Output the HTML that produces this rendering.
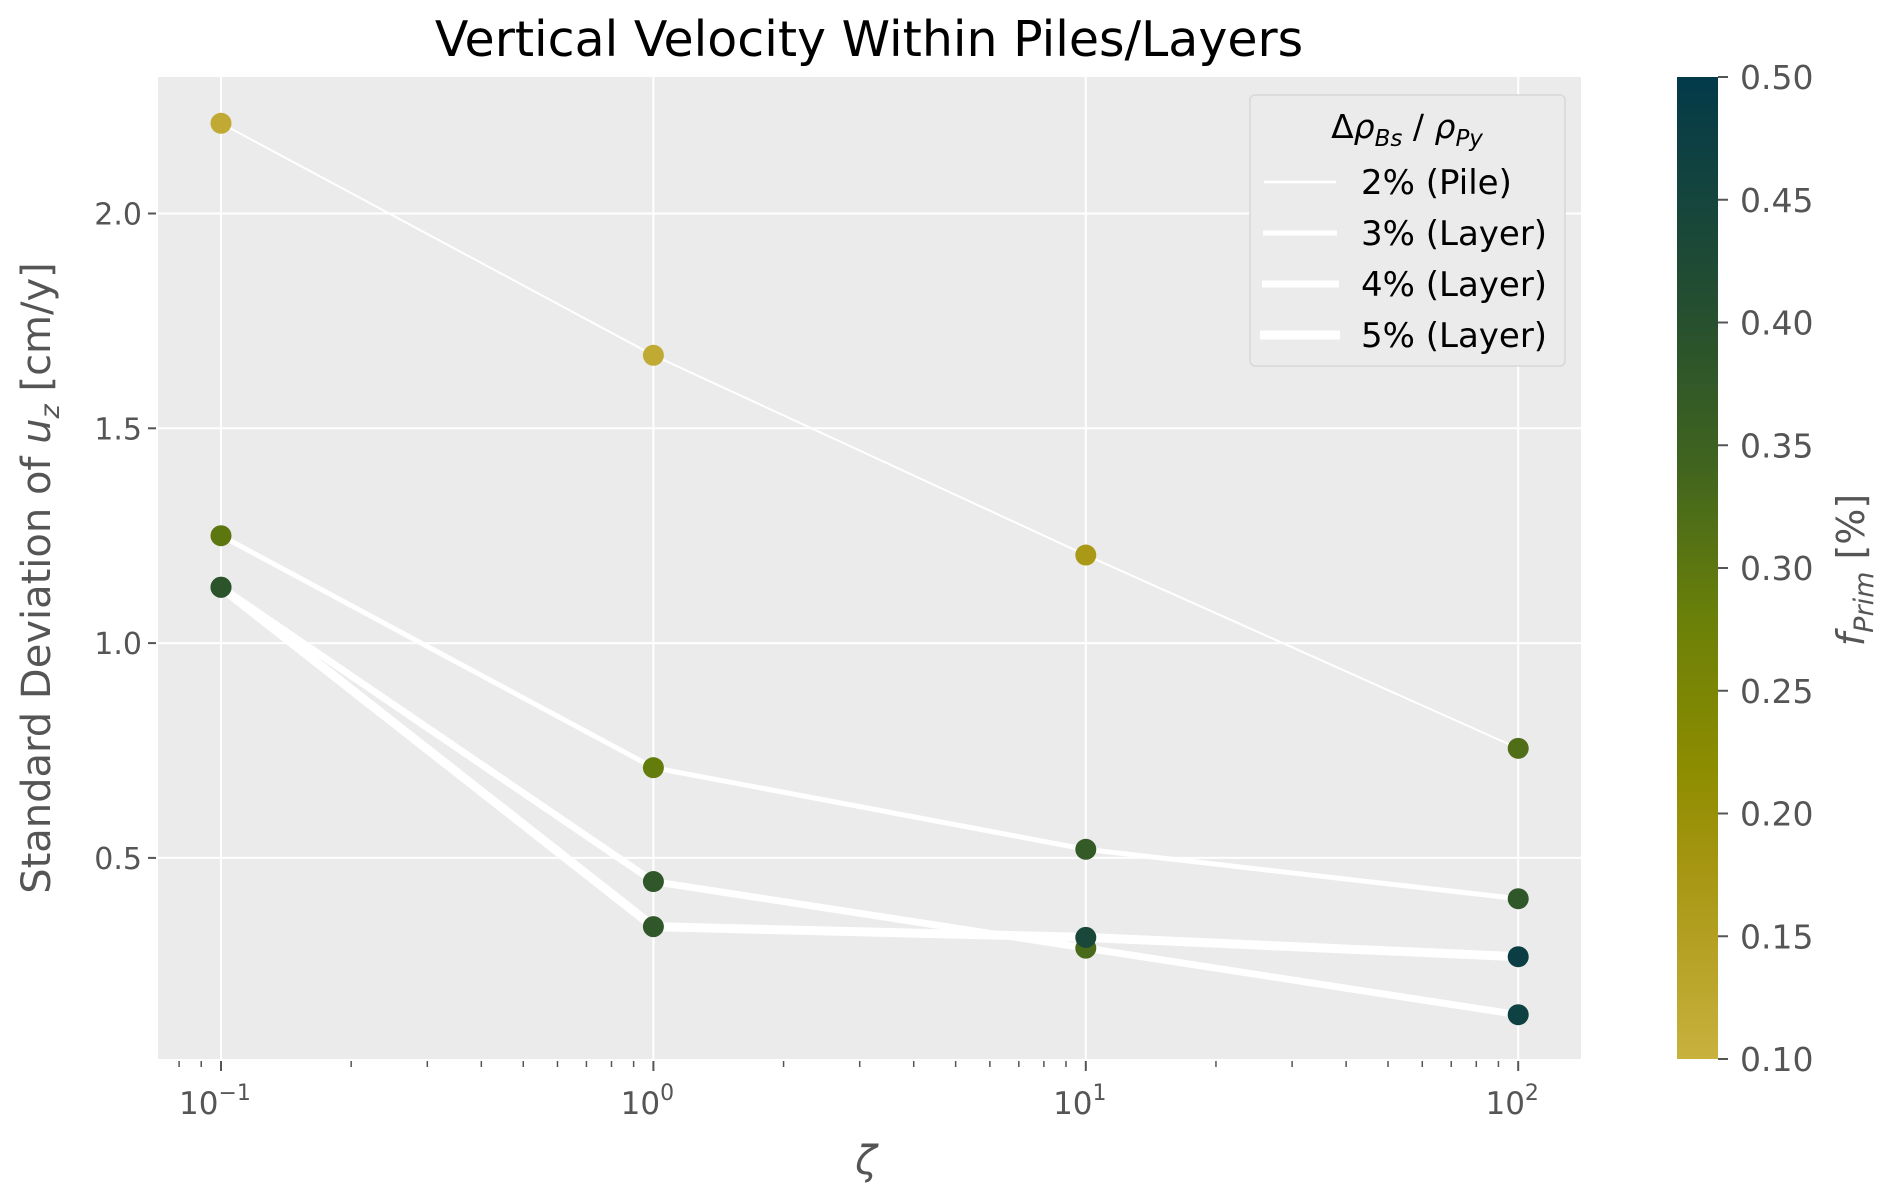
<!DOCTYPE html>
<html><head><meta charset="utf-8"><style>
body{margin:0;background:#fff;}
svg text{font-family:"DejaVu Sans","Liberation Sans",sans-serif;}
</style></head><body>
<svg id="chart" width="1892" height="1197" viewBox="0 0 1892 1197" xmlns="http://www.w3.org/2000/svg">
<rect x="158" y="77" width="1423" height="982" fill="#ebebeb"/>
<g id="grid"></g>
<g id="series"></g>
<g id="axes"></g>
<text x="869" y="56" font-size="49" text-anchor="middle" fill="#000">Vertical Velocity Within Piles/Layers</text>
<text transform="translate(50,578) rotate(-90)" font-size="40" text-anchor="middle" fill="#555">Standard Deviation of <tspan font-style="italic">u</tspan><tspan font-style="italic" font-size="27" dy="9">z</tspan><tspan dy="-9"> [cm/y]</tspan></text>
<text x="866" y="1174" font-size="40" font-style="italic" text-anchor="middle" fill="#555">ζ</text>
<g>
<rect x="1250" y="95" width="315" height="271" rx="5" fill="#ebebeb" stroke="#d8d8d8" stroke-width="1.5"/>
<text x="1407" y="138" font-size="33" text-anchor="middle" fill="#000">Δ<tspan font-style="italic">ρ</tspan><tspan font-style="italic" font-size="23" dy="8">Bs</tspan><tspan dy="-8"> / </tspan><tspan font-style="italic">ρ</tspan><tspan font-style="italic" font-size="23" dy="8">Py</tspan></text>
<g><line x1="1264" x2="1336" y1="182" y2="182" stroke="#fff" stroke-width="2.5"/><text x="1361" y="194" font-size="34" fill="#000">2% (Pile)</text></g>
<g><line x1="1263" x2="1337" y1="233" y2="233" stroke="#fff" stroke-width="5"/><text x="1361" y="245" font-size="34" fill="#000">3% (Layer)</text></g>
<g><line x1="1262" x2="1339" y1="284" y2="284" stroke="#fff" stroke-width="7"/><text x="1361" y="296" font-size="34" fill="#000">4% (Layer)</text></g>
<g><line x1="1260" x2="1340" y1="335" y2="335" stroke="#fff" stroke-width="9"/><text x="1361" y="347" font-size="34" fill="#000">5% (Layer)</text></g>
</g>
<defs><linearGradient id="cb" x1="0" y1="1" x2="0" y2="0">
<stop offset="0" stop-color="#c9b13e"/><stop offset="0.2" stop-color="#a59510"/><stop offset="0.3" stop-color="#8c8c00"/><stop offset="0.45" stop-color="#6a8009"/><stop offset="0.6" stop-color="#41651e"/><stop offset="0.75" stop-color="#27502e"/><stop offset="1" stop-color="#033a4a"/>
</linearGradient></defs>
<rect x="1677" y="77" width="41" height="982" fill="url(#cb)"/>
<g id="cbticks"></g>
<text transform="translate(1864,570) rotate(-90)" font-size="38" text-anchor="middle" fill="#555"><tspan font-style="italic">f</tspan><tspan font-style="italic" font-size="27" dy="9">Prim</tspan><tspan dy="-9"> [%]</tspan></text>
</svg>
<script>
const zeta = [0.1, 1, 10, 100];
const pile2 = [2.21, 1.67, 1.205, 0.755];
const pile2F = [0.12, 0.12, 0.17, 0.32];
const layer3 = [1.25, 0.71, 0.52, 0.405];
const layer3F = [0.30, 0.29, 0.37, 0.38];
const layer4 = [1.13, 0.445, 0.29, 0.135];
const layer4F = [0.39, 0.38, 0.33, 0.47];
const layer5 = [1.13, 0.34, 0.315, 0.27];
const layer5F = [0.39, 0.38, 0.44, 0.48];
const yTicks = [0.5, 1.0, 1.5, 2.0];
const cbTicks = [0.10, 0.15, 0.20, 0.25, 0.30, 0.35, 0.40, 0.45, 0.50];
const xDecades = [-1, 0, 1, 2];
const NS = "http://www.w3.org/2000/svg";
const X = v => 221 + (Math.log10(v) + 1) * 432.4;
const Y = v => 857.9 - (v - 0.5) * 429.6;
const CB = f => 1059 - (f - 0.1) / 0.4 * 982;
const stops = [[0.10,[201,177,62]],[0.18,[165,149,16]],[0.22,[140,140,0]],[0.28,[106,128,9]],[0.34,[65,101,30]],[0.40,[39,80,46]],[0.50,[3,58,74]]];
function col(f){for(let i=0;i<stops.length-1;i++){const a=stops[i],b=stops[i+1];if(f<=b[0]){const t=Math.max(0,(f-a[0])/(b[0]-a[0]));return "rgb("+a[1].map((c,k)=>Math.round(c+(b[1][k]-c)*t)).join(",")+")";}}return "rgb(3,58,74)";}
function mk(tag, attrs, parent){const e=document.createElementNS(NS,tag);for(const k in attrs)e.setAttribute(k,attrs[k]);parent.appendChild(e);return e;}
const grid=document.getElementById('grid'), ser=document.getElementById('series'), ax=document.getElementById('axes'), cbt=document.getElementById('cbticks');
xDecades.forEach(d=>{const x=X(Math.pow(10,d));
 const g=mk('line',{x1:x,x2:x,y1:77,y2:1059,stroke:'#fff','stroke-width':2},grid);
 
 
 const t=mk('line',{x1:x,x2:x,y1:1061,y2:1071,stroke:'#555','stroke-width':2},ax);
 
 
 const tx=mk('text',{x:x-6,y:1114,'font-size':31,'text-anchor':'middle',fill:'#555'},ax);
 
 
 tx.innerHTML='10<tspan font-size="22" dy="-14">'+(d<0?'−1':d)+'</tspan>';
});
for(let d=-2;d<=2;d++)for(let m=2;m<=9;m++){const v=m*Math.pow(10,d);const x=X(v);if(x<160||x>1580)continue;
 const t=mk('line',{x1:x,x2:x,y1:1061,y2:1067,stroke:'#555','stroke-width':1.5},ax);
 
 }
yTicks.forEach(v=>{const y=Y(v);
 const g=mk('line',{x1:158,x2:1581,y1:y,y2:y,stroke:'#fff','stroke-width':2},grid);
 
 
 const t=mk('line',{x1:148,x2:156,y1:y,y2:y,stroke:'#555','stroke-width':2},ax);
 
 
 const tx=mk('text',{x:142,y:y+11,'font-size':30,'text-anchor':'end',fill:'#555'},ax);
 
 
 tx.textContent=v.toFixed(1);
});
cbTicks.forEach(v=>{const y=CB(v);
 const t=mk('line',{x1:1718,x2:1728,y1:y,y2:y,stroke:'#555','stroke-width':2},cbt);
 
 
 const tx=mk('text',{x:1740,y:y+12,'font-size':33,fill:'#555'},cbt);
 
 
 tx.textContent=v.toFixed(2);
});
const series=[[pile2,pile2F,2,'series-2pct-pile'],[layer3,layer3F,5,'series-3pct-layer'],[layer4,layer4F,7,'series-4pct-layer'],[layer5,layer5F,9,'series-5pct-layer']];
series.forEach(s=>{const pts=zeta.map((z,i)=>X(z)+','+Y(s[0][i])).join(' ');
 const l=mk('polyline',{points:pts,fill:'none',stroke:'#fff','stroke-width':s[2],'stroke-linejoin':'round'},ser);
 
 });
series.forEach(s=>{zeta.forEach((z,i)=>{
 const c=mk('circle',{cx:X(z),cy:Y(s[0][i]),r:10.5,fill:col(s[1][i])},ser);
 
 });});
</script>
</body></html>
